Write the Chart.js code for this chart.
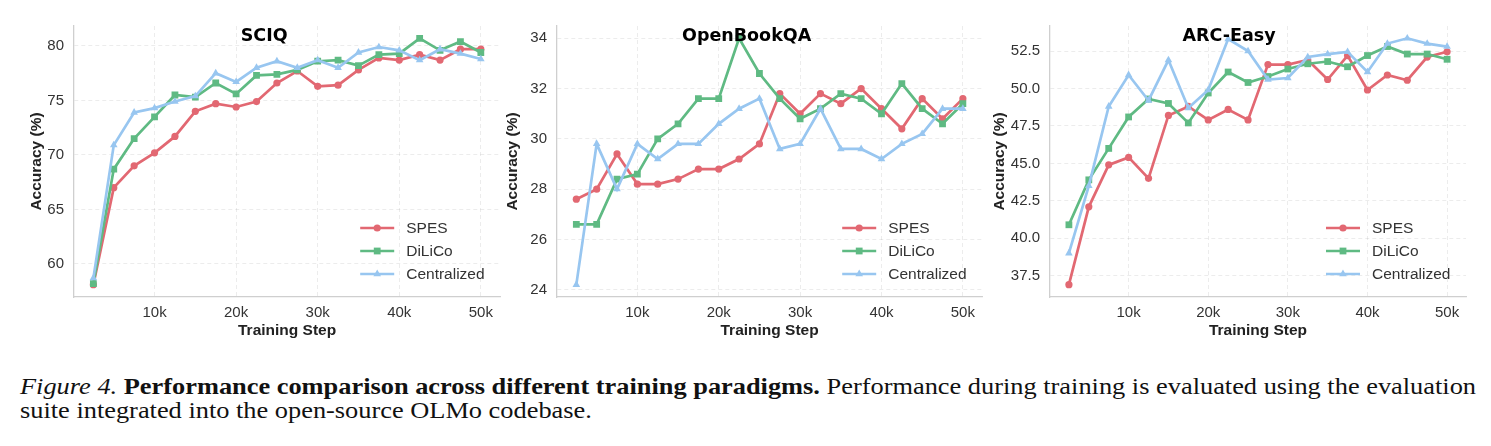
<!DOCTYPE html>
<html>
<head>
<meta charset="utf-8">
<script src="https://cdn.jsdelivr.net/npm/chart.js@4.4.1/dist/chart.umd.min.js"></script>
<style>
  html, body { margin: 0; padding: 0; background: #ffffff; }
  body { width: 1491px; height: 446px; position: relative; overflow: hidden; }
  canvas { position: absolute; top: 0; }
  #c1 { left: 0px; }
  #c2 { left: 495px; }
  #c3 { left: 987px; }
  .cap { position: absolute; left: 20px; font-family: "Liberation Serif", "Times New Roman", serif; font-size: 24px; line-height: 24px; color: #111; white-space: nowrap; transform-origin: 0 50%; }
  #cap1 { top: 374px; }
  #cap2 { top: 398px; }
</style>
</head>
<body>
<canvas id="c1" width="505" height="345"></canvas>
<canvas id="c2" width="492" height="345"></canvas>
<canvas id="c3" width="504" height="345"></canvas>
<div class="cap" id="cap1"><i>Figure 4.</i> <b>Performance comparison across different training paradigms.</b> Performance during training is evaluated using the evaluation</div>
<div class="cap" id="cap2">suite integrated into the open-source OLMo codebase.</div>
<script>
// ---------------- DATA ----------------
const steps = [2500, 5000, 7500, 10000, 12500, 15000, 17500, 20000, 22500, 25000,
               27500, 30000, 32500, 35000, 37500, 40000, 42500, 45000, 47500, 50000];
const seriesNames = ["SPES", "DiLiCo", "Centralized"];

const sciqSpes    = [58.1, 67.0, 69.0, 70.2, 71.7, 74.0, 74.7, 74.4, 74.9, 76.6, 77.7, 76.3, 76.4, 77.8, 78.9, 78.7, 79.2, 78.7, 79.7, 79.7];
const sciqDilico  = [58.2, 68.7, 71.5, 73.5, 75.5, 75.3, 76.6, 75.6, 77.3, 77.4, 77.8, 78.6, 78.7, 78.2, 79.2, 79.3, 80.7, 79.6, 80.4, 79.4];
const sciqCentral = [58.7, 70.9, 73.9, 74.3, 74.9, 75.4, 77.5, 76.7, 78.0, 78.6, 78.0, 78.7, 78.0, 79.4, 79.9, 79.6, 78.7, 79.7, 79.3, 78.8];

const obqaSpes    = [27.6, 28.0, 29.4, 28.2, 28.2, 28.4, 28.8, 28.8, 29.2, 29.8, 31.8, 31.0, 31.8, 31.4, 32.0, 31.2, 30.4, 31.6, 30.8, 31.6];
const obqaDilico  = [26.6, 26.6, 28.4, 28.6, 30.0, 30.6, 31.6, 31.6, 34.0, 32.6, 31.6, 30.8, 31.2, 31.8, 31.6, 31.0, 32.2, 31.2, 30.6, 31.4];
const obqaCentral = [24.2, 29.8, 28.0, 29.8, 29.2, 29.8, 29.8, 30.6, 31.2, 31.6, 29.6, 29.8, 31.2, 29.6, 29.6, 29.2, 29.8, 30.2, 31.2, 31.2];

const arcSpes     = [36.9, 42.1, 44.9, 45.4, 44.0, 48.2, 48.8, 47.9, 48.6, 47.9, 51.6, 51.6, 51.9, 50.6, 52.2, 49.9, 50.9, 50.55, 52.1, 52.45];
const arcDilico   = [40.9, 43.9, 46.0, 48.1, 49.3, 49.0, 47.7, 49.7, 51.1, 50.4, 50.8, 51.3, 51.65, 51.8, 51.45, 52.2, 52.8, 52.3, 52.3, 51.95];
const arcCentral  = [39.0, 43.5, 48.8, 50.9, 49.2, 51.9, 48.7, 49.9, 53.3, 52.5, 50.6, 50.7, 52.1, 52.3, 52.45, 51.1, 53.0, 53.35, 53.0, 52.8];

const xTicks = [10000, 20000, 30000, 40000, 50000];
const sciqYTicks = [60, 65, 70, 75, 80];
const obqaYTicks = [24, 26, 28, 30, 32, 34];
const arcYTicks  = [37.5, 40, 42.5, 45, 47.5, 50, 52.5];

const panelTitles = ["SCIQ", "OpenBookQA", "ARC-Easy"];

// ---------------- STYLE ----------------
const COLORS = ["#E26872", "#5FBA83", "#98C6F0"];
const MARKERS = ["circle", "rect", "triangle"];
const MRAD = [3.6, 4.8, 4.4];
const SANS = '"Liberation Sans", Arial, sans-serif';

function rangeOf(arrs) {
  let lo = Infinity, hi = -Infinity;
  arrs.forEach(a => a.forEach(v => { lo = Math.min(lo, v); hi = Math.max(hi, v); }));
  const m = (hi - lo) * 0.05;
  return [lo - m, hi + m];
}

function drawMarker(ctx, style, r, x, y) {
  ctx.beginPath();
  if (style === "circle") {
    ctx.arc(x, y, r, 0, Math.PI * 2);
  } else if (style === "rect") {
    const s = r * Math.SQRT1_2;
    ctx.rect(x - s, y - s, 2 * s, 2 * s);
  } else {
    ctx.moveTo(x, y - r);
    ctx.lineTo(x + r * 0.866, y + r * 0.5);
    ctx.lineTo(x - r * 0.866, y + r * 0.5);
    ctx.closePath();
  }
  ctx.fill();
}

const overlayPlugin = {
  id: "overlay",
  afterDraw(chart, args, opts) {
    const ctx = chart.ctx;
    const a = chart.chartArea;
    ctx.save();
    // panel title
    ctx.fillStyle = "#000";
    ctx.font = 'bold 17.5px "DejaVu Sans", sans-serif';
    ctx.textAlign = "center";
    ctx.textBaseline = "alphabetic";
    ctx.fillText(opts.title, (a.left + a.right) / 2 + opts.titleDx, 40.5);
    // legend
    const lx0 = a.right - 140, lx1 = a.right - 106, tx = a.right - 94;
    const rows = [a.bottom - 69, a.bottom - 46, a.bottom - 23];
    chart.data.datasets.forEach((ds, i) => {
      const y = rows[i];
      ctx.strokeStyle = ds.borderColor;
      ctx.lineWidth = 2.7;
      ctx.beginPath();
      ctx.moveTo(lx0, y); ctx.lineTo(lx1, y);
      ctx.stroke();
      ctx.fillStyle = ds.borderColor;
      drawMarker(ctx, MARKERS[i], MRAD[i], (lx0 + lx1) / 2, y);
      ctx.fillStyle = "#333";
      ctx.font = '15.5px ' + SANS;
      ctx.textAlign = "left";
      ctx.textBaseline = "middle";
      ctx.fillText(ds.label, tx, y + 1);
    });
    ctx.restore();
  }
};

function makeChart(id, series, yTicks, yFmt, cfg) {
  const [ymin, ymax] = rangeOf(series);
  const datasets = series.map((vals, i) => ({
    label: seriesNames[i],
    data: steps.map((s, k) => ({ x: s, y: vals[k] })),
    borderColor: COLORS[i],
    backgroundColor: COLORS[i],
    pointBackgroundColor: COLORS[i],
    pointBorderColor: COLORS[i],
    pointBorderWidth: 0,
    pointStyle: MARKERS[i],
    pointRadius: MRAD[i],
    borderWidth: 2.7,
    tension: 0,
    order: 3 - i
  }));
  return new Chart(document.getElementById(id), {
    type: "line",
    data: { datasets },
    options: {
      responsive: false,
      animation: false,
      devicePixelRatio: 1,
      layout: { padding: { left: 0, right: cfg.padRight, top: 26, bottom: 0 } },
      plugins: {
        legend: { display: false },
        tooltip: { enabled: false },
        overlay: { title: cfg.title, titleDx: cfg.titleDx }
      },
      scales: {
        x: {
          type: "linear",
          min: 125, max: 52375,
          afterBuildTicks: s => { s.ticks = xTicks.map(v => ({ value: v })); },
          afterFit: s => { s.height = 48; },
          ticks: {
            callback: v => (v / 1000) + "k",
            font: { family: SANS, size: 15 },
            color: "#333",
            padding: 7,
            maxRotation: 0
          },
          grid: { color: "rgba(0,0,0,0.085)", lineWidth: 0.9, drawTicks: false },
          border: { display: true, color: "#cfcfcf", width: 1.3, dash: [4, 3] },
          title: {
            display: true, text: "Training Step",
            font: { family: SANS, size: 15.5, weight: "bold" },
            color: "#222",
            padding: { top: 0, bottom: 4.5 }
          }
        },
        y: {
          min: ymin, max: ymax,
          afterBuildTicks: s => { s.ticks = yTicks.map(v => ({ value: v })); },
          afterFit: s => { s.width = cfg.yWidth; },
          ticks: {
            callback: yFmt,
            font: { family: SANS, size: 15 },
            color: "#333",
            padding: 10
          },
          grid: { color: "rgba(0,0,0,0.085)", lineWidth: 0.9, drawTicks: false },
          border: { display: true, color: "#cfcfcf", width: 1.3, dash: [4, 3] },
          title: {
            display: true, text: "Accuracy (%)",
            font: { family: SANS, size: 15.5, weight: "bold" },
            color: "#222",
            padding: { top: cfg.yTitlePad, bottom: 0 }
          }
        }
      }
    },
    plugins: [overlayPlugin]
  });
}

makeChart("c1", [sciqSpes, sciqDilico, sciqCentral], sciqYTicks, v => String(v),
  { title: panelTitles[0], titleDx: -23, padRight: 4, yWidth: 74, yTitlePad: 27.7 });
makeChart("c2", [obqaSpes, obqaDilico, obqaCentral], obqaYTicks, v => String(v),
  { title: panelTitles[1], titleDx: -23, padRight: 4, yWidth: 62, yTitlePad: 8.7 });
makeChart("c3", [arcSpes, arcDilico, arcCentral], arcYTicks, v => v.toFixed(1),
  { title: panelTitles[2], titleDx: -29, padRight: 25, yWidth: 63, yTitlePad: 3.7 });

// caption: stretch first line to the full text width, same horizontal scale for line 2
(function fitCaption() {
  const c1 = document.getElementById("cap1");
  const c2 = document.getElementById("cap2");
  const w = c1.getBoundingClientRect().width;
  const s = 1456 / w;
  c1.style.transform = "scaleX(" + s + ")";
  c2.style.transform = "scaleX(" + s + ")";
})();
</script>
</body>
</html>
